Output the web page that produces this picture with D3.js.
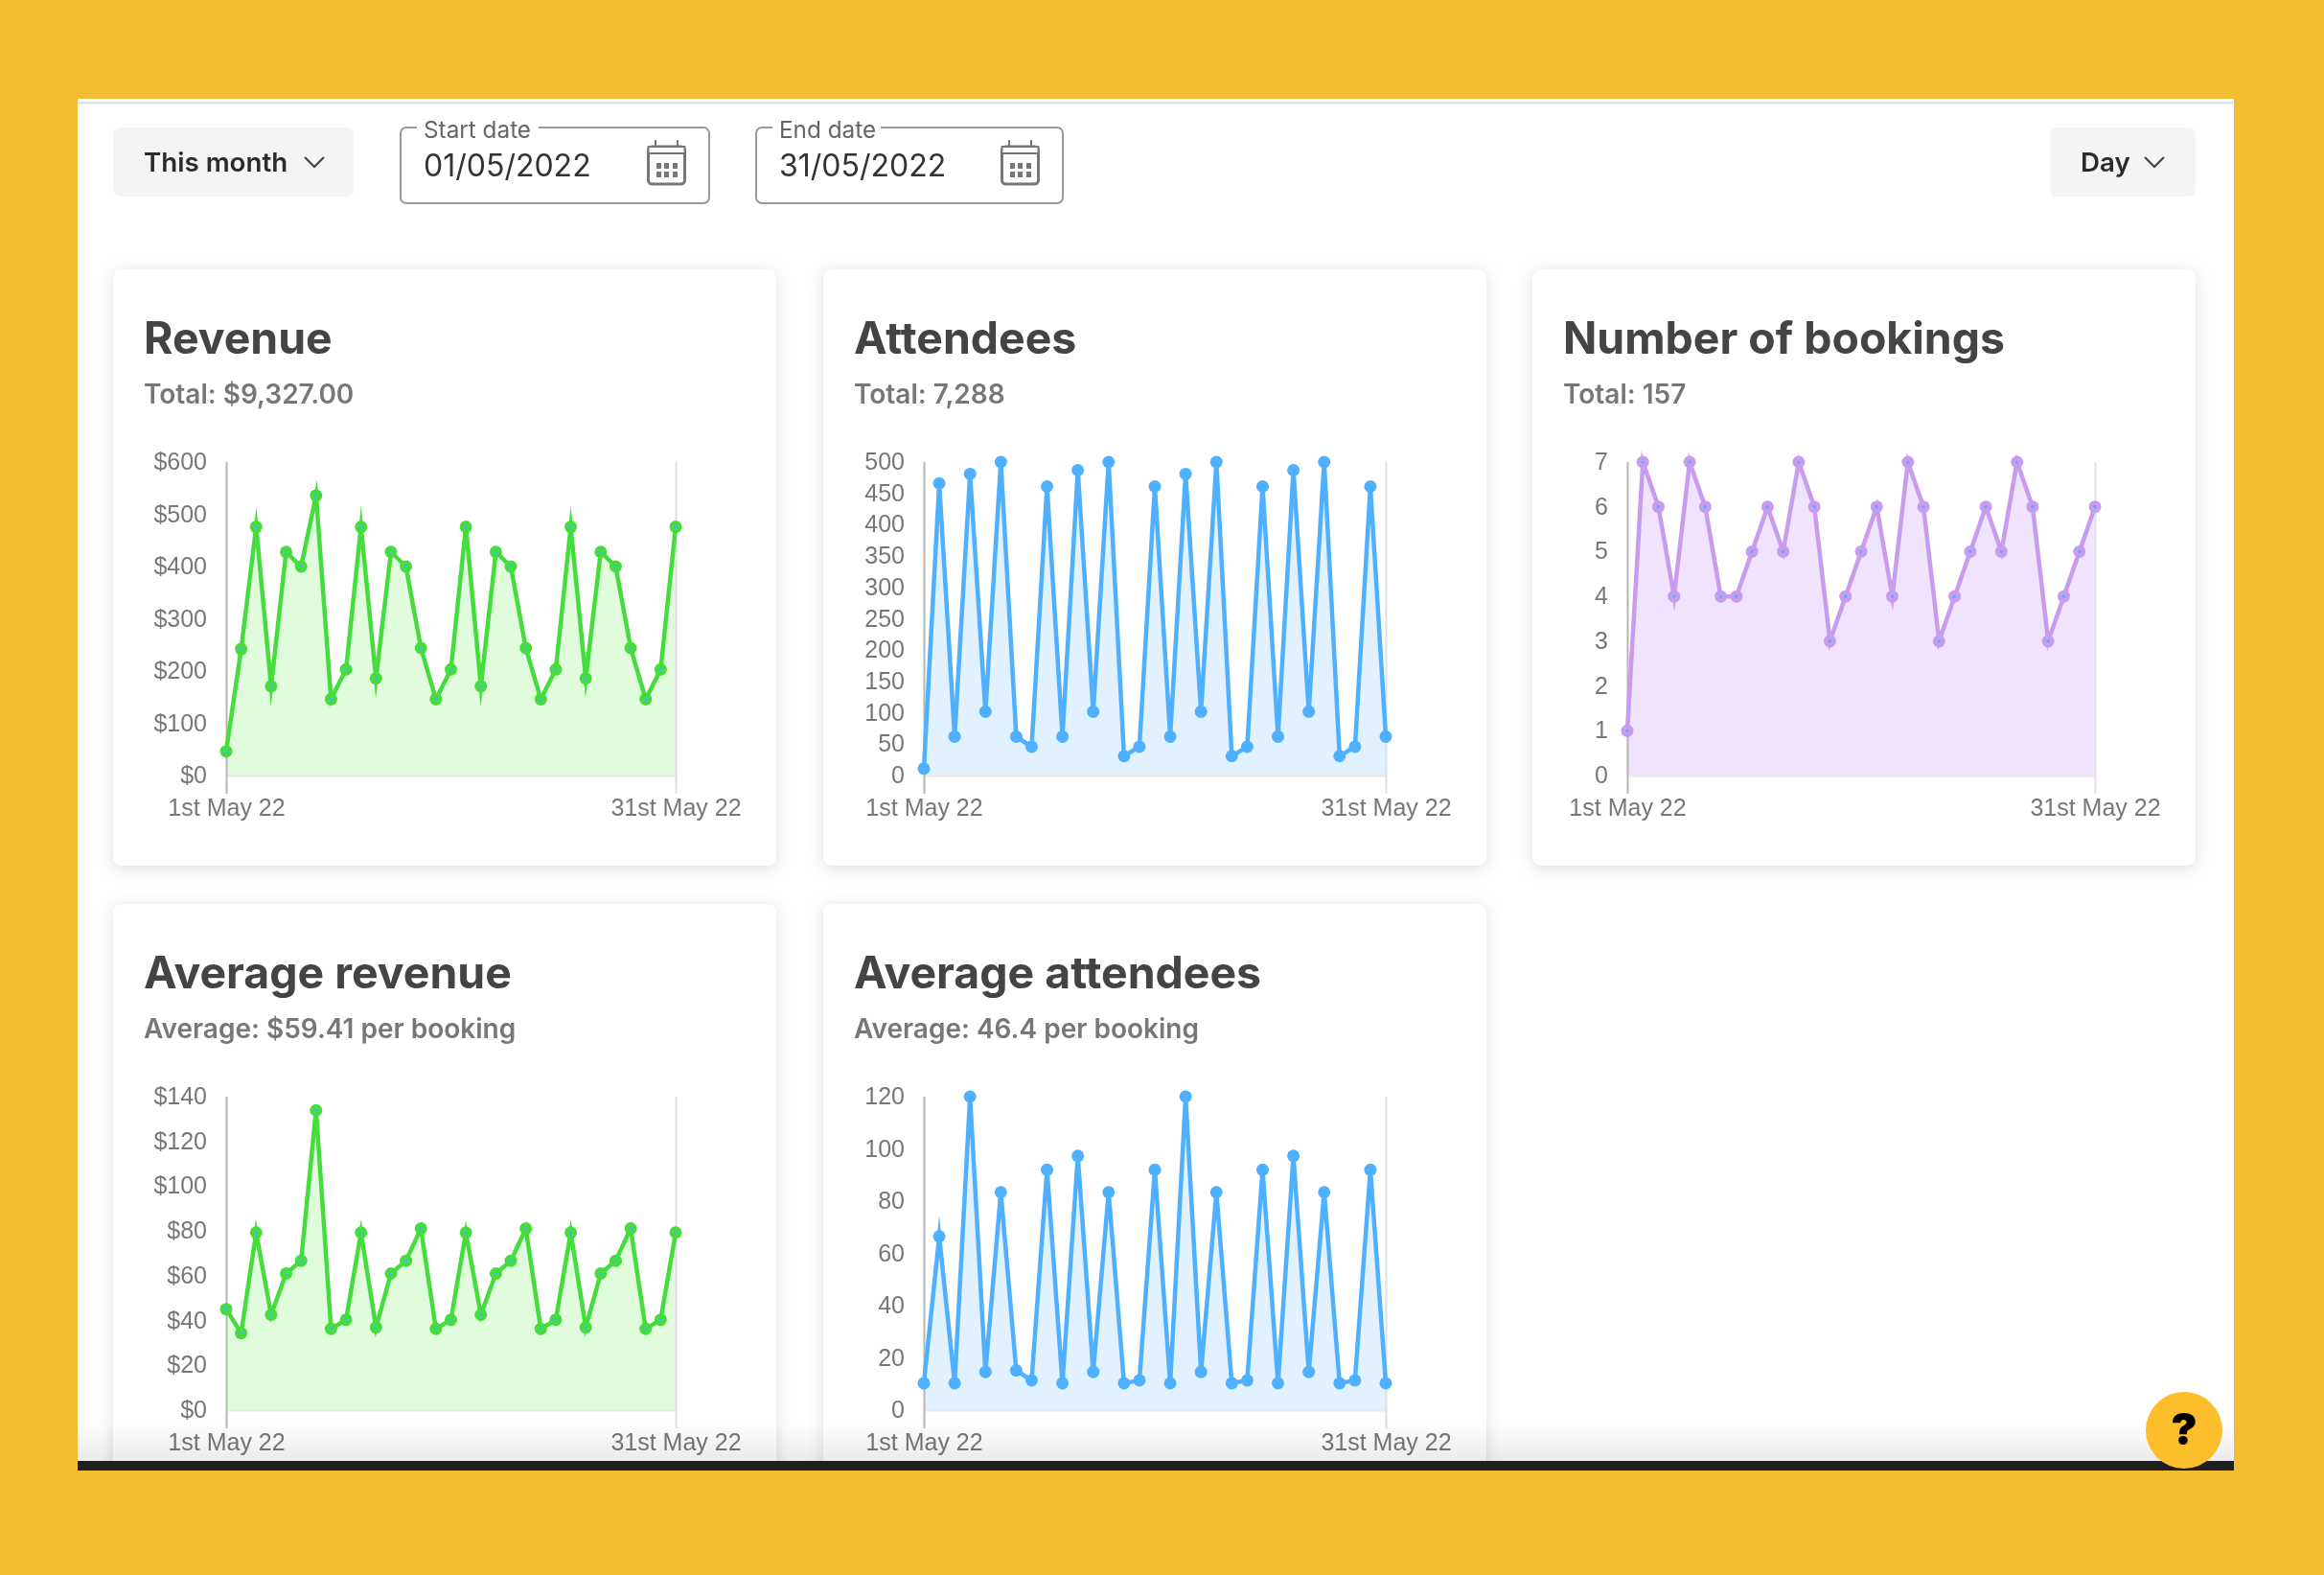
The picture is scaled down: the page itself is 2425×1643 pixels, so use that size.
<!DOCTYPE html>
<html lang="en">
<head>
    <meta charset="UTF-8">
    <script src="https://d3js.org/d3.v7.min.js"></script>
    <title>booking dashboard</title>
    <style>
        html, body { margin: 0; padding: 0; background: #f4bc33; }
        svg { display: block; }
        text { font-family: Inter, "Noto Sans", sans-serif; }
        .axis text { font-family: "Liberation Sans", Arial, sans-serif; font-size: 25px; fill: #777; }
        .axis path { stroke: #e8e8e8; stroke-width: 2; }
        .card { fill: #fff; filter: drop-shadow(0 3px 8px rgba(0, 0, 0, 0.13)); }
        .title { font-size: 46.4px; font-weight: 700; fill: #444; }
        .sub { font-size: 28px; font-weight: 600; fill: #777; }
        .btn { fill: #f4f4f4; }
        .btn-text { font-size: 27.7px; font-weight: 600; fill: #2b2b2b; }
        .field { fill: #fff; stroke: #999; stroke-width: 2; }
        .field-label { font-size: 24.3px; fill: #666; }
        .field-value { font-size: 32px; fill: #333; }
        .chevron { fill: none; stroke: #444; stroke-width: 2.2; }
        .fade { mix-blend-mode: multiply; }
    </style>
</head>
<body>
    <svg width="2425" height="1643"></svg>
    <script>
        // values, one per day
        var days = d3.range(1, 32);
        var xLabels = ["1st May 22", "31st May 22"];

        var revenue = [46.5, 242, 476, 171, 428, 400, 536, 146, 203, 476, 186, 428, 400, 244, 146, 203,
                       476, 171, 428, 400, 244, 146, 203, 476, 186, 428, 400, 244, 146, 203, 476];
        var attendees = [11, 466, 62, 481, 102, 500, 62, 46, 461, 62, 487, 102, 500, 31, 46, 461,
                         62, 481, 102, 500, 31, 46, 461, 62, 487, 102, 500, 31, 46, 461, 62];
        var bookings = [1, 7, 6, 4, 7, 6, 4, 4, 5, 6, 5, 7, 6, 3, 4, 5,
                        6, 4, 7, 6, 3, 4, 5, 6, 5, 7, 6, 3, 4, 5, 6];
        var avgRevenue = [45.1, 34.4, 79.3, 42.6, 61, 66.7, 133.9, 36.3, 40.4, 79.3, 37, 61, 66.7, 81.1, 36.3, 40.4,
                          79.3, 42.6, 61, 66.7, 81.1, 36.3, 40.4, 79.3, 37, 61, 66.7, 81.1, 36.3, 40.4, 79.3];
        var avgAttendees = [10.3, 66.5, 10.3, 120, 14.6, 83.4, 15.2, 11.4, 92, 10.3, 97.3, 14.6, 83.4, 10.3, 11.4, 92,
                            10.3, 120, 14.6, 83.4, 10.3, 11.4, 92, 10.3, 97.3, 14.6, 83.4, 10.3, 11.4, 92, 10.3];

        var revenueTicks = [0, 100, 200, 300, 400, 500, 600];
        var attendeeTicks = [0, 50, 100, 150, 200, 250, 300, 350, 400, 450, 500];
        var bookingTicks = [0, 1, 2, 3, 4, 5, 6, 7];
        var avgRevenueTicks = [0, 20, 40, 60, 80, 100, 120, 140];
        var avgAttendeeTicks = [0, 20, 40, 60, 80, 100, 120];

        var green = { line: "#45dc3e", area: "#e0fcdc" };
        var blue = { line: "#4fb0ff", area: "#e1f1fd" };
        var purple = { line: "#c79cee", area: "#f0e3fd" };

        var dollars = function(d) { return "$" + d; };
        var plain = function(d) { return d; };

        var cards = [
            { title: "Revenue", sub: "Total: $9,327.00", values: revenue, ticks: revenueTicks, fmt: dollars, color: green,
              x: 118, y: 281, left: 236, right: 705 },
            { title: "Attendees", sub: "Total: 7,288", values: attendees, ticks: attendeeTicks, fmt: plain, color: blue,
              x: 859, y: 281, left: 964, right: 1446 },
            { title: "Number of bookings", sub: "Total: 157", values: bookings, ticks: bookingTicks, fmt: plain, color: purple,
              x: 1599, y: 281, left: 1698, right: 2186 },
            { title: "Average revenue", sub: "Average: $59.41 per booking", values: avgRevenue, ticks: avgRevenueTicks, fmt: dollars, color: green,
              x: 118, y: 943, left: 236, right: 705 },
            { title: "Average attendees", sub: "Average: 46.4 per booking", values: avgAttendees, ticks: avgAttendeeTicks, fmt: plain, color: blue,
              x: 859, y: 943, left: 964, right: 1446 }
        ];

        var svg = d3.select("svg");
        var defs = svg.append("defs");

        defs.append("clipPath").attr("id", "panel-clip")
            .append("rect").attr("x", 81).attr("y", 104).attr("width", 2250).attr("height", 1420);

        var fade = defs.append("linearGradient").attr("id", "fade")
            .attr("x1", 0).attr("y1", 0).attr("x2", 0).attr("y2", 1);
        fade.append("stop").attr("offset", 0).attr("stop-color", "#fff");
        fade.append("stop").attr("offset", 1).attr("stop-color", "#ebebeb");

        // page frame
        svg.append("rect").attr("width", 2425).attr("height", 1643).attr("fill", "#f4bc33");
        svg.append("rect").attr("x", 81).attr("y", 103).attr("width", 2250).attr("height", 1421).attr("fill", "#fff");
        svg.append("rect").attr("x", 81).attr("y", 106).attr("width", 2250).attr("height", 2.5).attr("fill", "#dfe3e6");

        var panel = svg.append("g").attr("clip-path", "url(#panel-clip)");

        // toolbar
        function dropdown(x, w, label, textX, chevronX) {
            panel.append("rect").attr("class", "btn").attr("x", x).attr("y", 133)
                 .attr("width", w).attr("height", 72).attr("rx", 8);
            panel.append("text").attr("class", "btn-text").attr("x", textX).attr("y", 179).text(label);
            panel.append("path").attr("class", "chevron")
                 .attr("d", d3.line()([[chevronX - 10, 164], [chevronX, 174], [chevronX + 10, 164]]));
        }

        function dateField(x, w, label, labelW, value) {
            panel.append("rect").attr("class", "field").attr("x", x).attr("y", 133)
                 .attr("width", w).attr("height", 79).attr("rx", 6);
            panel.append("rect").attr("x", x + 17).attr("y", 128).attr("width", labelW).attr("height", 10).attr("fill", "#fff");
            panel.append("text").attr("class", "field-label").attr("x", x + 24).attr("y", 144).text(label);
            panel.append("text").attr("class", "field-value").attr("x", x + 24).attr("y", 184).text(value);

            var ix = x + w - 65, g = panel.append("g").attr("transform", "translate(" + ix + ",146)");
            g.append("rect").attr("x", 1.5).attr("y", 7).attr("width", 38).attr("height", 39).attr("rx", 4)
             .attr("fill", "none").attr("stroke", "#777").attr("stroke-width", 3);
            g.append("rect").attr("x", 1.5).attr("y", 7).attr("width", 38).attr("height", 7).attr("fill", "#fff")
             .attr("stroke", "#777").attr("stroke-width", 2);
            [9, 32].forEach(function(px) {
                g.append("line").attr("x1", px).attr("x2", px).attr("y1", 0).attr("y2", 7)
                 .attr("stroke", "#777").attr("stroke-width", 2);
            });
            [10, 18, 27].forEach(function(px) {
                [24, 33].forEach(function(py) {
                    g.append("rect").attr("x", px).attr("y", py).attr("width", 5).attr("height", 6).attr("fill", "#777");
                });
            });
        }

        dropdown(118, 251, "This month", 150, 328);
        dateField(418, 322, "Start date", 127, "01/05/2022");
        dateField(789, 320, "End date", 113, "31/05/2022");
        dropdown(2139, 152, "Day", 2171, 2248);

        // one card with its chart
        cards.forEach(function(c) {
            var g = panel.append("g");
            var top = c.y + 201, bottom = c.y + 528;

            g.append("rect").attr("class", "card").attr("x", c.x).attr("y", c.y)
             .attr("width", 692).attr("height", 622).attr("rx", 9);
            g.append("text").attr("class", "title").attr("x", c.x + 32).attr("y", c.y + 88).text(c.title);
            g.append("text").attr("class", "sub").attr("x", c.x + 32).attr("y", c.y + 140).text(c.sub);

            var x = d3.scaleLinear().domain([1, 31]).range([c.left, c.right]);
            var y = d3.scaleLinear().domain([0, d3.max(c.ticks)]).range([bottom, top]);

            var area = d3.area().x(function(d, i) { return x(days[i]); }).y0(y(0)).y1(function(d) { return y(d); });
            var line = d3.line().x(function(d, i) { return x(days[i]); }).y(function(d) { return y(d); });

            g.append("path").datum(c.values).attr("d", area).attr("fill", c.color.area);

            var yAxis = d3.axisLeft(y).tickValues(c.ticks).tickFormat(c.fmt).tickSize(0).tickPadding(20);
            g.append("g").attr("class", "axis").attr("transform", "translate(" + c.left + ",-0.5)").call(yAxis)
             .select(".domain").remove();

            var xAxis = d3.axisBottom(x).tickValues([1, 31])
                          .tickFormat(function(d, i) { return xLabels[i]; })
                          .tickSizeInner(19).tickSizeOuter(0).tickPadding(5);
            var xg = g.append("g").attr("class", "axis").attr("transform", "translate(0," + bottom + ")").call(xAxis);
            xg.selectAll(".tick line")
              .attr("y1", top - bottom)
              .attr("stroke-width", 2)
              .attr("stroke", function(d, i) { return i == 0 ? "#b5b5b5" : "#e0e0e0"; });

            g.append("path").datum(c.values).attr("d", line)
             .attr("fill", "none")
             .attr("stroke", c.color.line)
             .attr("stroke-width", 4.5)
             .attr("stroke-linejoin", "miter")
             .attr("stroke-miterlimit", 10);

            g.selectAll(".pt").data(c.values).enter().append("circle")
             .attr("cx", function(d, i) { return x(days[i]); })
             .attr("cy", function(d) { return y(d); })
             .attr("r", 6.5)
             .attr("fill", c.color.line);
            g.selectAll(".core").data(c.values).enter().append("circle")
             .attr("cx", function(d, i) { return x(days[i]); })
             .attr("cy", function(d) { return y(d); })
             .attr("r", 1.6)
             .attr("fill", blue.line);
        });

        // bottom of the scrolled page
        panel.append("rect").attr("class", "fade").attr("x", 81).attr("y", 1484)
             .attr("width", 2250).attr("height", 40).attr("fill", "url(#fade)");
        svg.append("rect").attr("x", 81).attr("y", 1524).attr("width", 2250).attr("height", 10).attr("fill", "#1f1f1f");

        // help button
        svg.append("circle").attr("cx", 2279).attr("cy", 1492).attr("r", 40).attr("fill", "#fdbe2b");
        svg.append("text").attr("x", 2279).attr("y", 1507)
           .attr("text-anchor", "middle")
           .style("font-size", "46px").style("font-weight", 900).style("fill", "#000")
           .text("?");
    </script>
</body>
</html>
